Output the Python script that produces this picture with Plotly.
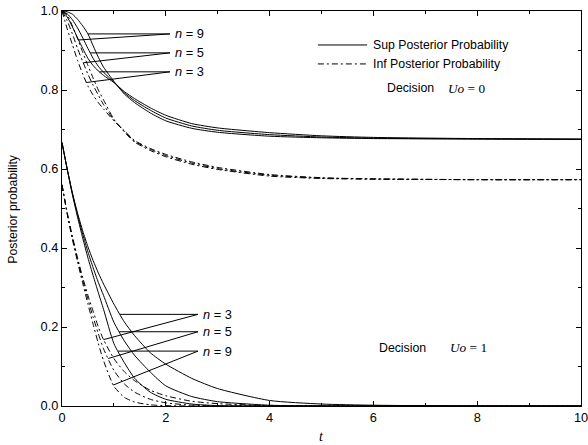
import numpy as np
import plotly.graph_objects as go

# ---------------- data ----------------
t = [0, 0.1, 0.2, 0.3, 0.4, 0.5, 0.6, 0.7, 0.8, 1.0, 1.2, 1.4, 1.7, 2.0, 2.5, 3.0, 4.0, 5.0, 6.0, 8.0, 10.0]

# Decision Uo = 0
sup0_n3 = [1.0, 0.985, 0.960, 0.932, 0.905, 0.880, 0.862, 0.848, 0.837, 0.819, 0.796, 0.778, 0.755, 0.736, 0.715, 0.704, 0.692, 0.684, 0.680, 0.677, 0.676]
sup0_n5 = [1.0, 0.993, 0.978, 0.957, 0.932, 0.905, 0.880, 0.860, 0.845, 0.820, 0.793, 0.773, 0.749, 0.729, 0.709, 0.698, 0.687, 0.681, 0.678, 0.676, 0.675]
sup0_n9 = [1.0, 0.998, 0.992, 0.979, 0.962, 0.942, 0.912, 0.883, 0.858, 0.822, 0.790, 0.768, 0.742, 0.722, 0.703, 0.693, 0.683, 0.679, 0.677, 0.676, 0.675]
inf0_n3 = [1.0, 0.955, 0.915, 0.875, 0.840, 0.810, 0.787, 0.768, 0.752, 0.722, 0.697, 0.672, 0.652, 0.637, 0.618, 0.604, 0.586, 0.578, 0.575, 0.573, 0.573]
inf0_n5 = [1.0, 0.975, 0.942, 0.905, 0.872, 0.840, 0.812, 0.787, 0.763, 0.724, 0.696, 0.670, 0.650, 0.634, 0.615, 0.601, 0.584, 0.577, 0.575, 0.573, 0.573]
inf0_n9 = [1.0, 0.990, 0.962, 0.930, 0.895, 0.862, 0.830, 0.800, 0.775, 0.726, 0.694, 0.668, 0.647, 0.631, 0.612, 0.599, 0.582, 0.576, 0.574, 0.573, 0.573]

# Decision Uo = 1
sup1_n3 = [0.667, 0.600, 0.540, 0.488, 0.443, 0.403, 0.368, 0.337, 0.309, 0.258, 0.213, 0.178, 0.135, 0.106, 0.070, 0.044, 0.014, 0.005, 0.002, 0.0, 0.0]
sup1_n5 = [0.667, 0.600, 0.538, 0.484, 0.435, 0.390, 0.350, 0.313, 0.280, 0.212, 0.165, 0.128, 0.086, 0.051, 0.024, 0.011, 0.002, 0.0, 0.0, 0.0, 0.0]
sup1_n9 = [0.667, 0.600, 0.535, 0.478, 0.425, 0.375, 0.330, 0.287, 0.245, 0.158, 0.110, 0.070, 0.035, 0.017, 0.005, 0.001, 0.0, 0.0, 0.0, 0.0, 0.0]
inf1_n3 = [0.560, 0.490, 0.430, 0.375, 0.325, 0.280, 0.240, 0.200, 0.168, 0.120, 0.087, 0.064, 0.040, 0.026, 0.012, 0.006, 0.001, 0.0, 0.0, 0.0, 0.0]
inf1_n5 = [0.560, 0.488, 0.426, 0.370, 0.318, 0.270, 0.225, 0.183, 0.145, 0.090, 0.056, 0.035, 0.017, 0.008, 0.002, 0.0, 0.0, 0.0, 0.0, 0.0, 0.0]
inf1_n9 = [0.560, 0.486, 0.422, 0.365, 0.310, 0.258, 0.207, 0.158, 0.115, 0.050, 0.022, 0.010, 0.003, 0.001, 0.0, 0.0, 0.0, 0.0, 0.0, 0.0, 0.0]

n_values = ["9", "5", "3"]
x_ticks = [0, 2, 4, 6, 8, 10]
y_ticks = [0.0, 0.2, 0.4, 0.6, 0.8, 1.0]

# ---------------- styling ----------------
SANS = "Liberation Sans, Arial, Helvetica, sans-serif"
SERIF = "Liberation Serif, Times New Roman, serif"
DASHDOT = "6px,3px,2px,3px"
FS = 12.3

fig = go.Figure()

def add_curve(y, dash):
    fig.add_trace(go.Scatter(x=t, y=y, mode="lines", showlegend=False, hoverinfo="skip",
                             line=dict(color="black", width=1, dash=dash, shape="spline", smoothing=0.6)))

for s in [sup0_n3, sup0_n5, sup0_n9, sup1_n3, sup1_n5, sup1_n9]:
    add_curve(s, "solid")
for s in [inf0_n3, inf0_n5, inf0_n9, inf1_n3, inf1_n5, inf1_n9]:
    add_curve(s, DASHDOT)

shapes = []
annots = []

def pointer(num, lx, ly, sup, inf, t_inf):
    # horizontal line ends where the sup curve reaches the label height
    ts = float(np.interp(ly, sup[::-1], t[::-1]))
    yi = float(np.interp(t_inf, t, inf))
    shapes.append(dict(type="line", xref="x", yref="y", x0=lx, y0=ly, x1=ts, y1=ly,
                       line=dict(color="black", width=1)))
    shapes.append(dict(type="line", xref="x", yref="y", x0=lx, y0=ly, x1=t_inf, y1=yi,
                       line=dict(color="black", width=1)))
    annots.append(dict(x=lx + 0.05, y=ly, xref="x", yref="y", xanchor="left", yanchor="middle",
                       text="<i>n</i> = " + num, showarrow=False,
                       font=dict(family=SANS, size=FS + 0.5, color="black")))

# upper group pointers
pointer(n_values[0], 2.08, 0.942, sup0_n9, inf0_n9, 0.31)
pointer(n_values[1], 2.08, 0.894, sup0_n5, inf0_n5, 0.41)
pointer(n_values[2], 2.08, 0.846, sup0_n3, inf0_n3, 0.47)
# lower group pointers
pointer(n_values[2], 2.62, 0.232, sup1_n3, inf1_n3, 0.80)
pointer(n_values[1], 2.62, 0.188, sup1_n5, inf1_n5, 0.89)
pointer(n_values[0], 2.62, 0.139, sup1_n9, inf1_n9, 0.99)

# legend (manual)
shapes.append(dict(type="line", xref="x", yref="y", x0=4.93, x1=5.88, y0=0.914, y1=0.914,
                   line=dict(color="black", width=1)))
shapes.append(dict(type="line", xref="x", yref="y", x0=4.93, x1=5.88, y0=0.866, y1=0.866,
                   line=dict(color="black", width=1, dash=DASHDOT)))
annots.append(dict(x=5.95, y=0.914, xref="x", yref="y", xanchor="left", yanchor="middle",
                   text="Sup Posterior Probability", showarrow=False,
                   font=dict(family=SANS, size=FS, color="black")))
annots.append(dict(x=5.95, y=0.866, xref="x", yref="y", xanchor="left", yanchor="middle",
                   text="Inf Posterior Probability", showarrow=False,
                   font=dict(family=SANS, size=FS, color="black")))

def decision(x, xu, y, val):
    annots.append(dict(x=x, y=y, xref="x", yref="y", xanchor="left", yanchor="middle",
                       text="Decision", showarrow=False,
                       font=dict(family=SANS, size=FS, color="black")))
    annots.append(dict(x=xu, y=y, xref="x", yref="y", xanchor="left", yanchor="middle",
                       text="<i>Uo</i> = " + val, showarrow=False,
                       font=dict(family=SERIF, size=FS + 1, color="black")))

decision(6.22, 7.40, 0.805, "0")
decision(6.07, 7.43, 0.147, "1")

# axis titles as annotations (paper coordinates)
annots.append(dict(x=-0.096, y=0.5, xref="paper", yref="paper", xanchor="center", yanchor="middle",
                   text="Posterior probability", textangle=-90, showarrow=False,
                   font=dict(family=SANS, size=FS, color="black")))
annots.append(dict(x=0.5, y=-0.078, xref="paper", yref="paper", xanchor="center", yanchor="middle",
                   text="<i>t</i>", showarrow=False,
                   font=dict(family=SERIF, size=14, color="black")))

axis_common = dict(showline=True, linecolor="black", linewidth=1.2, mirror="ticks",
                   ticks="inside", ticklen=5, tickcolor="black", tickwidth=1,
                   showgrid=False, zeroline=False, automargin=False,
                   ticklabeloverflow="allow",
                   tickfont=dict(family=SANS, size=FS + 0.5, color="black"))

fig.update_layout(
    width=588, height=445,
    margin=dict(l=62, r=7, t=11, b=39),
    paper_bgcolor="white", plot_bgcolor="white",
    shapes=shapes, annotations=annots,
    xaxis=dict(range=[0, 10], tickvals=x_ticks, ticktext=[str(v) for v in x_ticks],
               minor=dict(dtick=1, ticks="inside", ticklen=3, tickcolor="black"),
               **axis_common),
    yaxis=dict(range=[0, 1.0], tickvals=y_ticks, ticktext=[f"{v:.1f}" for v in y_ticks],
               minor=dict(dtick=0.1, ticks="inside", ticklen=3, tickcolor="black"),
               **axis_common),
)

# remove the default page margin so the figure sits at the window's corner
fig.write_html("out.html", config={"displayModeBar": False},
               post_script="document.body.style.margin='0';")
